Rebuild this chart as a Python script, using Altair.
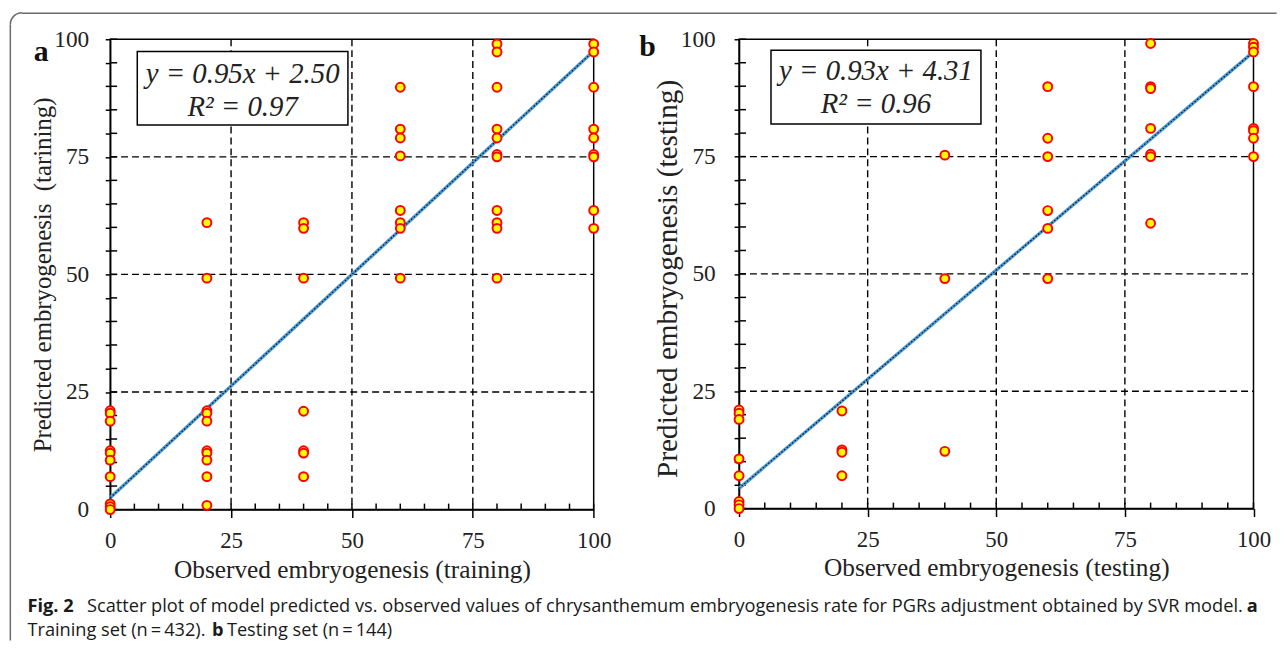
import altair as alt
import pandas as pd

# ---------------- data ----------------
obs_levels = [0, 20, 40, 60, 80, 100]

# panel a: training set, predicted values per observed level
train_pred = [
    [21, 20.5, 18.8, 12.5, 12, 10.5, 7, 1.2, 0.6, 0],
    [61, 49.2, 21, 20.5, 18.8, 12.5, 12, 10.5, 7, 0.9],
    [61, 59.8, 49.2, 20.9, 12.5, 12, 7],
    [89.8, 80.9, 79, 75.2, 63.6, 61, 59.8, 49.2],
    [99, 97.3, 89.8, 80.9, 79, 75.5, 75, 63.6, 61, 59.8, 49.2],
    [99, 97.3, 89.8, 80.9, 79, 75.5, 75, 63.6, 59.8],
]
# panel b: testing set
test_pred = [
    [21, 20.3, 19, 10.6, 7, 1.5, 0.8, 0],
    [20.8, 12.5, 12, 7],
    [75.3, 49, 12.2],
    [89.9, 78.9, 75, 63.5, 59.7, 49],
    [99.1, 89.9, 89.5, 81, 75.5, 75, 60.8],
    [99.1, 98.3, 97.3, 89.9, 81, 80.5, 78.9, 75],
]

fit_x = [0, 100]
train_fit_y = [2.5, 97.5]
test_fit_y = [4.31, 97.31]

grid_vals = [25, 50, 75]
major_ticks = [0, 25, 50, 75, 100]
minor_ticks = [0, 5, 10, 15, 20, 25, 30, 35, 40, 45, 50, 55, 60, 65, 70, 75, 80, 85, 90, 95, 100]

train_eq = ["y = 0.95x + 2.50", "R² = 0.97"]
test_eq = ["y = 0.93x + 4.31", "R² = 0.96"]

SERIF = "Liberation Serif"
SANS = "Open Sans"
one = pd.DataFrame({"d": [0]})


def points_df(pred):
    rows = []
    for xv, ys in zip(obs_levels, pred):
        for yv in ys:
            rows.append({"obs": xv, "pred": yv})
    return pd.DataFrame(rows)


def panel(pred, fit_y, W, H, xtitle, ytitle, ytitle_size, ytitle_x, ytitle_y, ylab_pad,
          xtitle_y, eq, box, eq_pos, label, label_pos, extra=None):
    sc = alt.Scale(domain=[0, 100], nice=False, zero=False)
    g = pd.DataFrame({"g": grid_vals})
    t = pd.DataFrame({"t": minor_ticks})

    xaxis = alt.Axis(values=major_ticks, title=xtitle, grid=False, domainColor="black",
                     domainWidth=1.5, tickColor="black", tickWidth=1.5, tickSize=8,
                     labelFont=SERIF, labelFontSize=23, labelColor="#222222", labelPadding=30,
                     labelBaseline="alphabetic", labelFlush=False, labelOverlap=False,
                     titleFont=SERIF, titleFontSize=25.5, titleFontWeight="normal",
                     titleColor="#222222", titleY=xtitle_y, titleBaseline="alphabetic")
    yaxis = alt.Axis(values=minor_ticks, title=ytitle, grid=False, domainColor="black",
                     domainWidth=1.5, tickColor="black", tickWidth=1.5, tickSize=5,
                     labelExpr="datum.value % 25 === 0 ? datum.label : ''",
                     labelFont=SERIF, labelFontSize=23.5, labelColor="#222222",
                     labelPadding=ylab_pad, labelFlush=False, labelOverlap=False,
                     titleFont=SERIF, titleFontSize=ytitle_size, titleFontWeight="normal",
                     titleColor="#222222", titleX=ytitle_x, titleY=ytitle_y,
                     titleAlign="center", titleBaseline="middle")

    grid_v = alt.Chart(g).mark_rule(color="black", strokeWidth=1.4, strokeDash=[7, 4]).encode(
        x=alt.X("g:Q", scale=sc, axis=xaxis), y=alt.value(0), y2=alt.value(H))
    grid_h = alt.Chart(g).mark_rule(color="black", strokeWidth=1.4, strokeDash=[7, 4]).encode(
        y=alt.Y("g:Q", scale=sc, axis=yaxis), x=alt.value(0), x2=alt.value(W))
    tick_y = alt.Chart(t).mark_rule(color="black", strokeWidth=1.5).encode(
        y=alt.Y("t:Q", scale=sc, axis=yaxis), x=alt.value(0), x2=alt.value(7))
    tick_x = alt.Chart(t).mark_rule(color="black", strokeWidth=1.5).encode(
        x=alt.X("t:Q", scale=sc, axis=xaxis), y=alt.value(H - 6), y2=alt.value(H))

    fit = pd.DataFrame({"x": fit_x, "y": fit_y})
    fit_blue = alt.Chart(fit).mark_line(color="#4a9ad8", strokeWidth=3.4).encode(
        x=alt.X("x:Q", scale=sc, axis=xaxis), y=alt.Y("y:Q", scale=sc, axis=yaxis))
    fit_dot = alt.Chart(fit).mark_line(color="#111111", strokeWidth=1.2, strokeDash=[1.5, 2]).encode(
        x=alt.X("x:Q", scale=sc, axis=xaxis), y=alt.Y("y:Q", scale=sc, axis=yaxis))

    pts = alt.Chart(points_df(pred)).mark_point(
        shape="circle", filled=True, fill="#ffff00", stroke="#ff0000", strokeWidth=2,
        size=80, opacity=1).encode(
        x=alt.X("obs:Q", scale=sc, axis=xaxis), y=alt.Y("pred:Q", scale=sc, axis=yaxis))

    boxc = alt.Chart(one).mark_rect(fill="white", stroke="black", strokeWidth=1.5).encode(
        x=alt.value(box[0]), x2=alt.value(box[1]), y=alt.value(box[2]), y2=alt.value(box[3]))
    eq1 = alt.Chart(one).mark_text(text=eq[0], font=SERIF, fontStyle="italic", fontSize=29,
                                   align="center", baseline="alphabetic", color="#222222").encode(
        x=alt.value(eq_pos[0]), y=alt.value(eq_pos[1]))
    eq2 = alt.Chart(one).mark_text(text=eq[1], font=SERIF, fontStyle="italic", fontSize=29,
                                   align="center", baseline="alphabetic", color="#222222").encode(
        x=alt.value(eq_pos[0]), y=alt.value(eq_pos[2]))
    lab = alt.Chart(one).mark_text(text=label, font=SERIF, fontWeight="bold", fontSize=30,
                                   align="left", baseline="alphabetic", color="#111111").encode(
        x=alt.value(label_pos[0]), y=alt.value(label_pos[1]))

    layers = [grid_v, grid_h, tick_y, tick_x, fit_blue, fit_dot, pts, boxc, eq1, eq2, lab]
    if extra:
        layers += extra
    return alt.layer(*layers).properties(width=W, height=H)


# ---- frame and caption (placed relative to panel a's plot origin at page (109.4, 36)) ----
OX, OY = 109.4, 36
FR = "#6b6b6b"
frame_top = alt.Chart(one).mark_rule(color=FR, strokeWidth=1.5).encode(
    x=alt.value(20.5 - OX), x2=alt.value(1285 - OX), y=alt.value(9.75 - OY))
frame_left = alt.Chart(one).mark_rule(color=FR, strokeWidth=1.5).encode(
    x=alt.value(8.75 - OX), y=alt.value(21 - OY), y2=alt.value(642 - OY))
frame_corner = alt.Chart(one).mark_arc(color=FR, radius=12.5, radius2=11,
                                       theta=4.7124, theta2=6.2832).encode(
    x=alt.value(20.5 - OX), y=alt.value(21 - OY))

L1, L2 = 613, 637
cap_style = dict(font=SANS, fontSize=18.35, align="left", baseline="alphabetic", color="#1a1a1a")
cap1a = alt.Chart(one).mark_text(text="Fig. 2", fontWeight="bold", **cap_style).encode(
    x=alt.value(26 - OX), y=alt.value(L1 - OY))
cap1b = alt.Chart(one).mark_text(
    text="Scatter plot of model predicted vs. observed values of chrysanthemum embryogenesis rate for PGRs adjustment obtained by SVR model.",
    **cap_style).encode(x=alt.value(86 - OX), y=alt.value(L1 - OY))
cap1c = alt.Chart(one).mark_text(text="a", fontWeight="bold", **cap_style).encode(
    x=alt.value(1255 - OX), y=alt.value(L1 - OY))
cap2a = alt.Chart(one).mark_text(text="Training set (n\u2009=\u2009432).", **cap_style).encode(
    x=alt.value(26 - OX), y=alt.value(L2 - OY))
cap2b = alt.Chart(one).mark_text(text="b", fontWeight="bold", **cap_style).encode(
    x=alt.value(212 - OX), y=alt.value(L2 - OY))
cap2c = alt.Chart(one).mark_text(text="Testing set (n\u2009=\u2009144)", **cap_style).encode(
    x=alt.value(227 - OX), y=alt.value(L2 - OY))

extra_a = [frame_top, frame_left, frame_corner, cap1a, cap1b, cap1c, cap2a, cap2b, cap2c]

WA, HA = 487.3, 474
WB, HB = 518.5, 473

panel_a = panel(train_pred, train_fit_y, WA, HA,
                "Observed embryogenesis (training)",
                "Predicted embryogenesis \u00a0(tarining)", 25, -68, HA / 2, 16.6, 68,
                train_eq, (27.3, 239.6, 12.3, 86.3), (133.5, 44, 77), "a", (-77, 22),
                extra=extra_a)
panel_b = panel(test_pred, test_fit_y, WB, HB,
                "Observed embryogenesis (testing)",
                "Predicted embryogenesis (testing)", 29.5, -72.5, 241, 19, 67.7,
                test_eq, (32.2, 243.8, 11, 85.3), (138, 41, 74), "b", (-100.5, 17))

chart = alt.hconcat(panel_a, panel_b, spacing=742.5 - (OX + WA), bounds="flush").properties(
    padding={"left": 0, "top": 0, "right": 0, "bottom": 0},
    background="white",
).configure_view(stroke="black", strokeWidth=1.5)

chart.save("out.html", embed_options={"renderer": "svg", "actions": False})
